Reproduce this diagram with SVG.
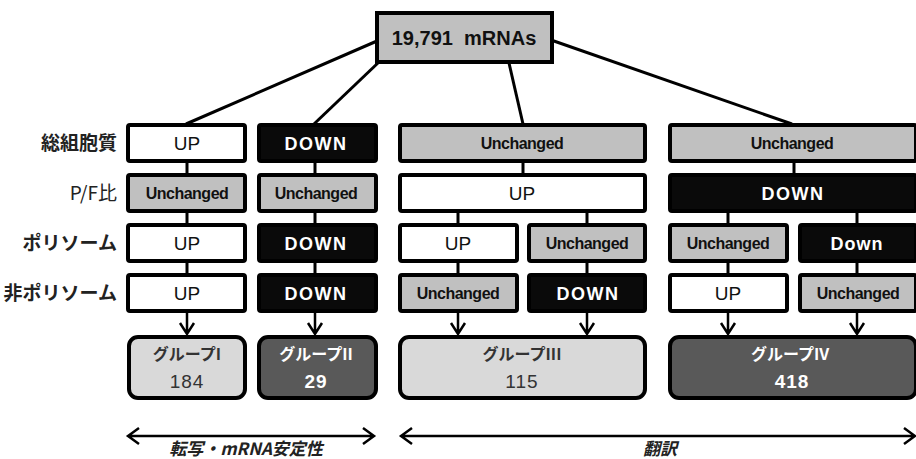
<svg xmlns="http://www.w3.org/2000/svg" width="916" height="459" viewBox="0 0 916 459">
<style>
.b{stroke:#000;stroke-width:4}
.w{fill:#fff}.g{fill:#c0c0c0}.k{fill:#0a0a0a}
.gl{fill:#d9d9d9}.gd{fill:#595959}
text{font-family:"Liberation Sans","Noto Sans CJK JP",sans-serif;text-anchor:middle}
.up{font-size:19px;fill:#111}
.dn{font-size:18px;font-weight:bold;fill:#fff;letter-spacing:1.5px}
.un{font-size:16px;font-weight:bold;fill:#111;letter-spacing:-0.5px}
.lab{font-family:"Noto Sans CJK JP",sans-serif;font-size:19px;font-weight:bold;fill:#222;text-anchor:end}
.gt{font-family:"Noto Sans CJK JP",sans-serif;font-size:16px;font-weight:bold}
.gn{font-size:19px;letter-spacing:1px}
.it{font-family:"Noto Sans CJK JP",sans-serif;font-size:17px;font-weight:bold;font-style:italic;fill:#222}
.c{stroke:#000;stroke-width:3;fill:none}
.a{stroke:#000;stroke-width:2.5;fill:none}
</style>
<g id="connectors">
<path class="c" d="M377 41 L186 124"/>
<path class="c" d="M379 62 L314 124"/>
<path class="c" d="M509 63 L523 124"/>
<path class="c" d="M551 40 L792 124"/>
<path class="c" d="M187 161 V177 M187 211 V227 M187 261 V277 M315 161 V177 M315 211 V227 M315 261 V277"/>
<path class="c" d="M523 161 V177 M458 211 V227 M587 211 V227 M458 261 V277 M587 261 V277"/>
<path class="c" d="M794 161 V177 M728 211 V227 M857 211 V227 M728 261 V277 M857 261 V277"/>
<path class="a" d="M187 313 V335 M180 323 L187 334 L194 323 M315 313 V335 M308 323 L315 334 L322 323 M458 313 V335 M451 323 L458 334 L465 323 M587 313 V335 M580 323 L587 334 L594 323 M728 313 V335 M721 323 L728 334 L735 323 M857 313 V335 M850 323 L857 334 L864 323"/>
<path class="a" d="M128 436 H374 M139 428 L128 436 L139 444 M363 428 L374 436 L363 444"/>
<path class="a" d="M401 436 H915 M412 428 L401 436 L412 444 M904 428 L915 436 L904 444"/>
</g>
<g id="top"><rect class="b g" x="377" y="13" width="175" height="49"/><text x="464" y="45" xml:space="preserve" style="font-size:20px;font-weight:bold;fill:#111;white-space:pre">19,791  mRNAs</text></g>
<g id="labels">
<text class="lab" x="117" y="150">総組胞質</text>
<text class="lab" x="117" y="200" style="font-weight:normal">P/F比</text>
<text class="lab" x="117" y="250">ポリソーム</text>
<text class="lab" x="117" y="300">非ポリソーム</text>
</g>
<g id="c1r1"><rect class="b w" x="128" y="125" width="117" height="36" rx="2"/><text class="up" x="187" y="150">UP</text></g>
<g id="c1r2"><rect class="b g" x="128" y="175" width="117" height="36" rx="2"/><text class="un" x="187" y="199">Unchanged</text></g>
<g id="c1r3"><rect class="b w" x="128" y="225" width="117" height="36" rx="2"/><text class="up" x="187" y="250">UP</text></g>
<g id="c1r4"><rect class="b w" x="128" y="275" width="117" height="36" rx="2"/><text class="up" x="187" y="300">UP</text></g>
<g id="c2r1"><rect class="b k" x="259" y="125" width="117" height="36" rx="2"/><text class="dn" x="316" y="150">DOWN</text></g>
<g id="c2r2"><rect class="b g" x="259" y="175" width="117" height="36" rx="2"/><text class="un" x="316" y="199">Unchanged</text></g>
<g id="c2r3"><rect class="b k" x="259" y="225" width="117" height="36" rx="2"/><text class="dn" x="316" y="250">DOWN</text></g>
<g id="c2r4"><rect class="b k" x="259" y="275" width="117" height="36" rx="2"/><text class="dn" x="316" y="300">DOWN</text></g>
<g id="c3r1"><rect class="b g" x="400" y="125" width="245" height="36" rx="2"/><text class="un" x="522" y="149">Unchanged</text></g>
<g id="c3r2"><rect class="b w" x="400" y="175" width="245" height="36" rx="2"/><text class="up" x="522" y="200">UP</text></g>
<g id="c3ar3"><rect class="b w" x="400" y="225" width="117" height="36" rx="2"/><text class="up" x="458" y="250">UP</text></g>
<g id="c3br3"><rect class="b g" x="529" y="225" width="116" height="36" rx="2"/><text class="un" x="587" y="249">Unchanged</text></g>
<g id="c3ar4"><rect class="b g" x="400" y="275" width="117" height="36" rx="2"/><text class="un" x="458" y="299">Unchanged</text></g>
<g id="c3br4"><rect class="b k" x="529" y="275" width="116" height="36" rx="2"/><text class="dn" x="588" y="300">DOWN</text></g>
<g id="c4r1"><rect class="b g" x="670" y="125" width="246" height="36" rx="2"/><text class="un" x="792" y="149">Unchanged</text></g>
<g id="c4r2"><rect class="b k" x="670" y="175" width="246" height="36" rx="2"/><text class="dn" x="793" y="200">DOWN</text></g>
<g id="c4ar3"><rect class="b g" x="670" y="225" width="117" height="36" rx="2"/><text class="un" x="728" y="249">Unchanged</text></g>
<g id="c4br3"><rect class="b k" x="800" y="225" width="116" height="36" rx="2"/><text class="dn" x="857" y="250" style="letter-spacing:1px">Down</text></g>
<g id="c4ar4"><rect class="b w" x="670" y="275" width="117" height="36" rx="2"/><text class="up" x="728" y="300">UP</text></g>
<g id="c4br4"><rect class="b g" x="800" y="275" width="116" height="36" rx="2"/><text class="un" x="858" y="299">Unchanged</text></g>
<g id="g1"><rect class="b gl" x="129" y="337" width="116" height="61" rx="9"/><text class="gt" x="187" y="360" fill="#333">グループI</text><text class="gn" x="187" y="388" fill="#333">184</text></g>
<g id="g2"><rect class="b gd" x="259" y="337" width="117" height="61" rx="9"/><text class="gt" x="316" y="360" fill="#fff">グループII</text><text class="gn" x="316" y="388" fill="#fff" style="font-weight:bold">29</text></g>
<g id="g3"><rect class="b gl" x="400" y="337" width="245" height="61" rx="9"/><text class="gt" x="522" y="360" fill="#333">グループIII</text><text class="gn" x="522" y="388" fill="#333">115</text></g>
<g id="g4"><rect class="b gd" x="670" y="337" width="246" height="61" rx="9"/><text class="gt" x="790" y="360" fill="#fff">グループIV</text><text class="gn" x="792" y="388" fill="#fff" style="font-weight:bold">418</text></g>
<g id="bottom">
<text class="it" x="246" y="455">転写・mRNA安定性</text>
<text class="it" x="660" y="455">翻訳</text>
</g>
</svg>
